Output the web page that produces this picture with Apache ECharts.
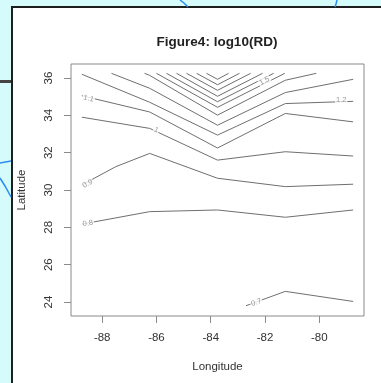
<!DOCTYPE html>
<html><head><meta charset="utf-8">
<script src="https://cdn.jsdelivr.net/npm/echarts@6/dist/echarts.min.js"></script>
<style>html,body{margin:0;padding:0;background:#d6fbfb;}#c{width:381px;height:383px;}</style>
</head><body><div id="c"></div>
<script>
// Contour lines of log10(RD): [longitude, latitude] vertices
const c07 = [[-82.7,23.8],[-81.25,24.57],[-78.75,24.03]];
const c08 = [[-88.75,28.17],[-86.25,28.84],[-83.75,28.93],[-81.25,28.54],[-78.75,28.93]];
const c09 = [[-88.75,30.27],[-87.5,31.25],[-86.25,31.96],[-83.75,30.63],[-81.25,30.18],[-78.75,30.31]];
const c10 = [[-88.75,33.90],[-86.25,33.30],[-83.75,31.60],[-81.25,32.05],[-78.75,31.82]];
const c11 = [[-88.75,35.05],[-86.25,34.18],[-83.75,32.25],[-81.25,34.10],[-78.75,33.65]];
const c12 = [[-88.75,36.2],[-86.25,34.70],[-83.75,32.94],[-81.25,34.63],[-78.75,34.75]];
const c13 = [[-87.66,36.25],[-86.25,35.45],[-83.75,33.47],[-81.25,35.22],[-78.75,35.93]];
const c14 = [[-86.44,36.25],[-86.25,36.14],[-83.75,34.01],[-81.25,35.88],[-80.11,36.25]];
const c15 = [[-86.0,36.25],[-83.75,34.43],[-81.27,36.25]];
const c16 = [[-85.63,36.25],[-83.75,34.73],[-81.68,36.25]];
const c17 = [[-85.26,36.25],[-83.75,35.02],[-82.09,36.25]];
const c18 = [[-84.89,36.25],[-83.75,35.34],[-82.53,36.25]];
const c19 = [[-84.52,36.25],[-83.75,35.64],[-82.94,36.25]];
const c20 = [[-84.155,36.25],[-83.75,35.93],[-83.34,36.25]];

// contour labels
const labelText = ['0.7','0.8','0.9','1','1.1','1.2','1.5'];
const labelLon  = [-82.32,-88.53,-88.54,-86.01,-88.5,-79.19,-82.02];
const labelLat  = [23.98,28.21,30.34,33.21,34.9,34.81,35.84];
const labelAngle = [18,10,28,-25,-13,0,27];

// axis ticks
const lonTicks = [-88,-86,-84,-82,-80];
const latTicks = [24,26,28,30,32,34,36];

const FONT = "'Liberation Sans', Arial, sans-serif";
const lines = [c07,c08,c09,c10,c11,c12,c13,c14,c15,c16,c17,c18,c19,c20];
const series = lines.map(d => ({
  type:'line', data:d, showSymbol:false, symbol:'none', silent:true, z:2,
  lineStyle:{color:'#6f6f6f', width:1}, animation:false
}));
series.push({
  type:'scatter', z:5, silent:true, animation:false,
  symbolSize:1, itemStyle:{color:'rgba(0,0,0,0)'},
  data: labelText.map((t,i)=>({value:[labelLon[i],labelLat[i],t], label:{rotate:labelAngle[i]}})),
  label:{show:true, position:'inside', formatter:p=>p.value[2], fontSize:7.5, color:'#808080',
    fontFamily:FONT, backgroundColor:'#fff', padding:[0,1]}
});

const chart = echarts.init(document.getElementById('c'), null, {renderer:'canvas'});
chart.setOption({
  backgroundColor:'#d6fbfb',
  animation:false,
  title:{text:'Figure4: log10(RD)', left:212, top:30, textAlign:'center',
    textStyle:{fontSize:13.5, fontWeight:'bold', color:'#222', fontFamily:FONT}},
  graphic:{elements:[
    {type:'rect', z:-10, shape:{x:12,y:7,width:400,height:400}, style:{fill:'#fff', stroke:'#1e1e1e', lineWidth:2}},
    {type:'line', z:-10, shape:{x1:0,y1:81.5,x2:11,y2:81.5}, style:{stroke:'#444', lineWidth:3}},
    {type:'polyline', z:-10, shape:{points:[[180,0],[184,3],[188,7]]}, style:{stroke:'#2a8df0', lineWidth:1.5, fill:null}},
    {type:'polyline', z:-10, shape:{points:[[337,0],[336,4],[335,7]]}, style:{stroke:'#2a8df0', lineWidth:1.5, fill:null}},
    {type:'polyline', z:-10, shape:{points:[[0,163],[11,161]]}, style:{stroke:'#2a8df0', lineWidth:1.5, fill:null}},
    {type:'polyline', z:-10, shape:{points:[[0,178],[5,186],[11,197]]}, style:{stroke:'#2a8df0', lineWidth:1.5, fill:null}}
  ]},
  grid:{left:71, right:17, top:64, bottom:67, show:true, borderColor:'#8a8a8a', borderWidth:1, backgroundColor:'transparent'},
  xAxis:{type:'value', min:-89.15, max:-78.35,
    name:'Longitude', nameLocation:'middle', nameGap:45,
    nameTextStyle:{fontSize:11.5, color:'#333', fontFamily:FONT},
    axisLine:{show:false}, splitLine:{show:false},
    axisTick:{show:true, length:7, customValues:lonTicks, lineStyle:{color:'#8a8a8a'}},
    axisLabel:{customValues:lonTicks, fontSize:11.5, color:'#333', margin:16, fontFamily:FONT}},
  yAxis:{type:'value', min:23.25, max:36.75,
    name:'Latitude', nameLocation:'middle', nameGap:43,
    nameTextStyle:{fontSize:11.5, color:'#333', fontFamily:FONT},
    axisLine:{show:false}, splitLine:{show:false},
    axisTick:{show:true, length:7, customValues:latTicks, lineStyle:{color:'#8a8a8a'}},
    axisLabel:{customValues:latTicks, rotate:90, fontSize:11.5, color:'#333', margin:16, fontFamily:FONT}},
  series: series
});
</script></body></html>
